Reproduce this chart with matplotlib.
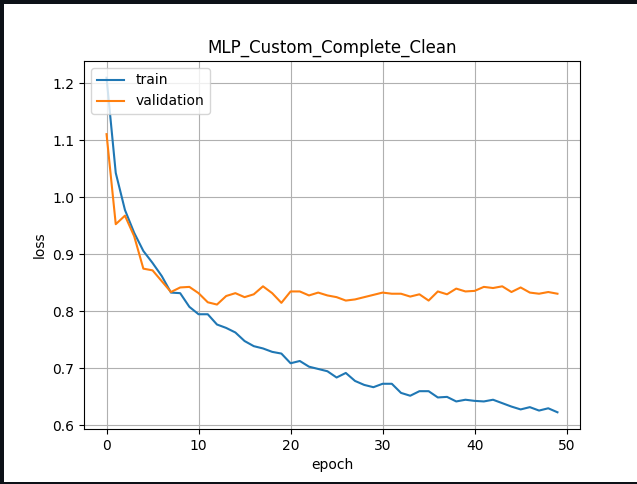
import matplotlib
matplotlib.use('Agg')
import matplotlib.pyplot as plt
from matplotlib.patches import Rectangle

# loss per epoch
epochs = list(range(50))
train_loss = [1.210, 1.043, 0.978, 0.938, 0.906, 0.885, 0.862, 0.833, 0.832, 0.808,
              0.795, 0.795, 0.777, 0.771, 0.763, 0.748, 0.739, 0.735, 0.729, 0.726,
              0.709, 0.713, 0.703, 0.699, 0.695, 0.684, 0.692, 0.678, 0.671, 0.667,
              0.673, 0.673, 0.657, 0.652, 0.660, 0.660, 0.649, 0.650, 0.642, 0.645,
              0.643, 0.642, 0.645, 0.639, 0.633, 0.628, 0.632, 0.626, 0.630, 0.623]
val_loss = [1.111, 0.953, 0.968, 0.932, 0.875, 0.872, 0.853, 0.834, 0.842, 0.843,
            0.832, 0.816, 0.812, 0.827, 0.832, 0.825, 0.830, 0.844, 0.832, 0.815,
            0.835, 0.835, 0.828, 0.833, 0.828, 0.825, 0.819, 0.821, 0.825, 0.829,
            0.833, 0.831, 0.831, 0.826, 0.830, 0.819, 0.835, 0.830, 0.840, 0.835,
            0.836, 0.843, 0.841, 0.844, 0.834, 0.842, 0.833, 0.831, 0.834, 0.831]

W, H = 637, 484
fig = plt.figure(figsize=(W / 100, H / 100), dpi=100, facecolor='#0d1117')
# white page of the screenshot, inset in the dark frame
fig.patches.append(Rectangle((4 / W, 2 / H), 1, 478 / H, transform=fig.transFigure,
                             facecolor='white', edgecolor='none', zorder=-10))

ax = fig.add_axes([84 / W, 55 / H, 496 / W, 368 / H])
ax.plot(epochs, train_loss, label='train')
ax.plot(epochs, val_loss, label='validation')
ax.set_title('MLP_Custom_Complete_Clean')
ax.set_xlabel('epoch')
ax.set_ylabel('loss')
ax.grid(True)
ax.legend(loc='upper left')

fig.savefig('out.png', dpi=100, facecolor=fig.get_facecolor())
